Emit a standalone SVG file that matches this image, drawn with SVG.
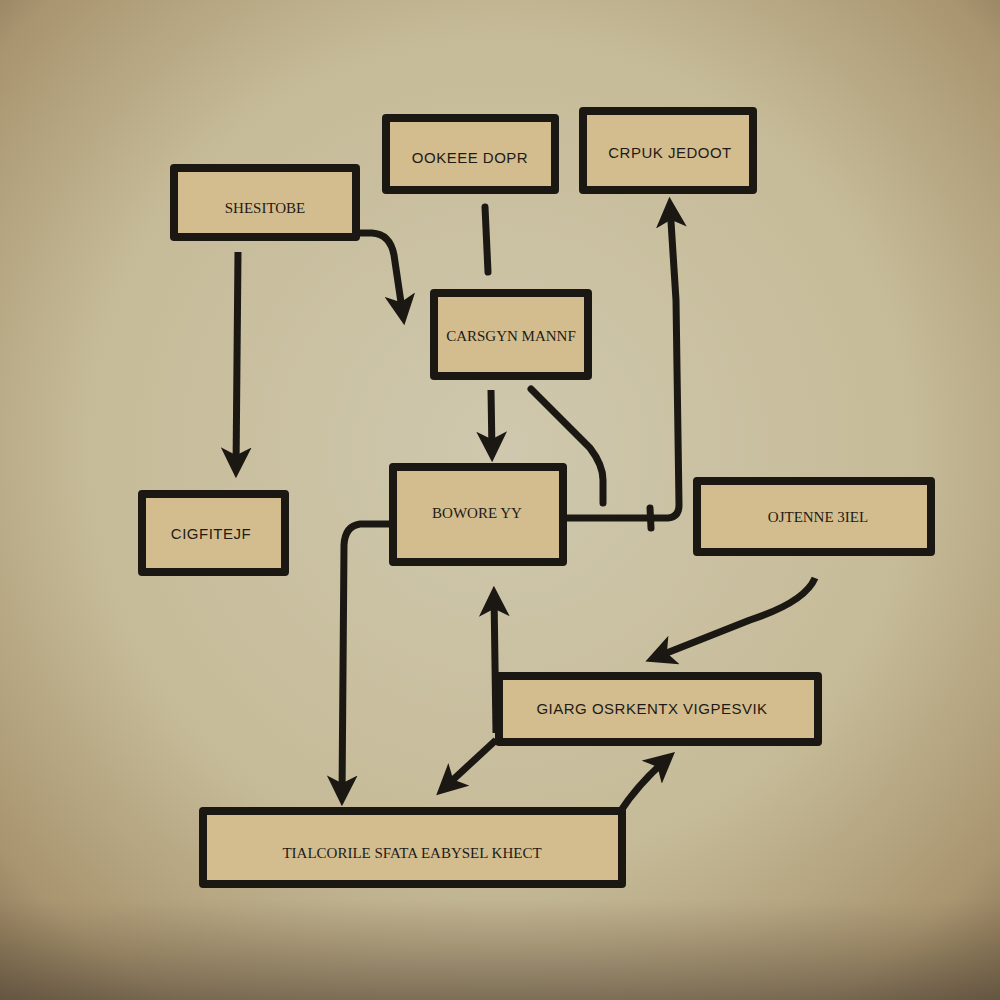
<svg xmlns="http://www.w3.org/2000/svg" width="1000" height="1000" viewBox="0 0 1000 1000">
<defs>
<radialGradient id="bg" cx="50%" cy="45%" r="75%">
<stop offset="0" stop-color="#cfc8ae"/>
<stop offset="0.55" stop-color="#c6bb98"/>
<stop offset="0.85" stop-color="#a99570"/>
<stop offset="1" stop-color="#7d6a4c"/>
</radialGradient>
<linearGradient id="bot" x1="0" y1="0" x2="0" y2="1">
<stop offset="0" stop-color="#6b5a44" stop-opacity="0"/>
<stop offset="1" stop-color="#4e4236" stop-opacity="0.55"/>
</linearGradient>
<marker id="ah" viewBox="0 0 10 10" refX="7" refY="5" markerWidth="4.4" markerHeight="4.4" orient="auto" markerUnits="strokeWidth">
<path d="M0,0 L10,5 L0,10 L2.5,5 Z" fill="#1b1814"/>
</marker>
</defs>
<style>
.box{fill:#d3bd8e;stroke:#1b1814;stroke-width:8;stroke-linejoin:round}
.t{font-family:"Liberation Sans",Arial,sans-serif;font-size:15px;fill:#1e1a15;text-anchor:middle;letter-spacing:0.5px}
.ts{font-family:"Liberation Serif","Times New Roman",serif;font-size:15px;fill:#1e1a15;text-anchor:middle}
.c{fill:none;stroke:#1b1814;stroke-width:7;stroke-linecap:round;stroke-linejoin:round}
.ca{fill:none;stroke:#1b1814;stroke-width:7;stroke-linecap:butt;stroke-linejoin:round;marker-end:url(#ah)}
</style>
<rect width="1000" height="1000" fill="url(#bg)"/>
<rect y="900" width="1000" height="100" fill="url(#bot)"/>

<g id="connectors">
<path class="ca" d="M357,233 L372,233 Q390,234 394,255 L403,316"/>
<path class="ca" d="M238,252 L236,469"/>
<path class="c" d="M485,207 L488,272"/>
<path class="ca" d="M491,390 L492,453"/>
<path class="c" d="M531,389 L590,448 Q603,465 603,480 L603,503"/>
<path class="ca" d="M566,518 L668,518 Q679,517 679,505 L676,300 L670,206"/>
<path class="c" d="M650,508 L651,528"/>
<path class="ca" d="M390,524 L360,524 Q345,526 344,545 L342,797"/>
<path class="ca" d="M496,733 L494,595"/>
<path class="ca" d="M496,740 L443,789"/>
<path class="ca" d="M815,578 Q805,602 750,620 L654,658"/>
<path class="ca" d="M620,812 Q638,784 668,758"/>
</g>

<g id="n1"><rect class="box" x="174" y="168" width="182" height="69"/><text class="ts" x="265" y="213">SHESITOBE</text></g>
<g id="n2"><rect class="box" x="386" y="118" width="169" height="72"/><text class="t" x="470" y="163">OOKEEE DOPR</text></g>
<g id="n3"><rect class="box" x="583" y="111" width="170" height="79"/><text class="t" x="670" y="158">CRPUK JEDOOT</text></g>
<g id="n4"><rect class="box" x="434" y="293" width="154" height="83"/><text class="ts" x="511" y="341" font-size="13">CARSGYN MANNF</text></g>
<g id="n5"><rect class="box" x="393" y="467" width="170" height="95"/><text class="ts" x="477" y="518" font-size="19">BOWORE YY</text></g>
<g id="n6"><rect class="box" x="142" y="494" width="143" height="78"/><text class="t" x="211" y="539">CIGFITEJF</text></g>
<g id="n7"><rect class="box" x="697" y="481" width="234" height="71"/><text class="ts" x="818" y="522" font-size="17">OJTENNE 3IEL</text></g>
<g id="n8"><rect class="box" x="499" y="676" width="319" height="66"/><text class="t" x="652" y="714" font-size="13">GIARG OSRKENTX VIGPESVIK</text></g>
<g id="n9"><rect class="box" x="203" y="811" width="419" height="73"/><text class="ts" x="412" y="858" font-size="16">TIALCORILE  SFATA  EABYSEL KHECT</text></g>
</svg>
